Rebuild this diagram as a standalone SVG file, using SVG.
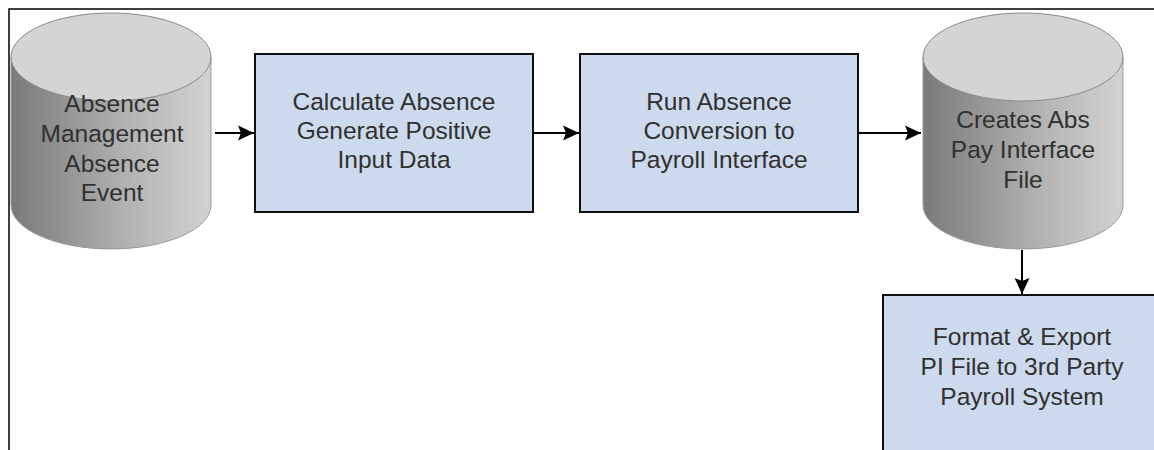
<svg xmlns="http://www.w3.org/2000/svg" width="1154" height="450" viewBox="0 0 1154 450">
<defs>
<linearGradient id="cylBody" x1="0" y1="0" x2="1" y2="0">
<stop offset="0" stop-color="#7a7a7a"/>
<stop offset="0.6" stop-color="#b4b4b4"/>
<stop offset="1" stop-color="#d2d2d2"/>
</linearGradient>
<marker id="arrow" viewBox="0 0 16 16" refX="16" refY="8" markerWidth="16" markerHeight="16" markerUnits="userSpaceOnUse" orient="auto">
<path d="M0,0.5 L16,8 L0,15.5 L3,8 Z" fill="#000"/>
</marker>
</defs>
<style>
.frame{stroke:#000;stroke-width:1.5;fill:none}
.box{fill:#cdd9ec;stroke:#111;stroke-width:2}
.cbody{fill:url(#cylBody);stroke:#9a9a9a;stroke-width:1}
.ctop{fill:#d4d4d4;stroke:#8a8a8a;stroke-width:1}
.lbl{font-family:"Liberation Sans",Arial,sans-serif;font-size:24.5px;fill:#303030;text-anchor:middle}
.conn{stroke:#000;stroke-width:2;fill:none;marker-end:url(#arrow)}
</style>
<rect width="1154" height="450" fill="#fff"/>
<path class="frame" d="M9,450 L9,9 L1154,9"/>

<g id="node-absence-event">
<path class="cbody" d="M11,57 L11,205 A100,44 0 0 0 211,205 L211,57 Z"/>
<ellipse class="ctop" cx="111" cy="57" rx="100" ry="44"/>
<text class="lbl" x="112" y="112">Absence</text>
<text class="lbl" x="112" y="142">Management</text>
<text class="lbl" x="112" y="172">Absence</text>
<text class="lbl" x="112" y="201">Event</text>
</g>

<g id="node-calculate">
<rect class="box" x="255" y="54" width="278" height="158"/>
<text class="lbl" x="394" y="110">Calculate Absence</text>
<text class="lbl" x="394" y="139">Generate Positive</text>
<text class="lbl" x="394" y="168">Input Data</text>
</g>

<g id="node-run-conversion">
<rect class="box" x="580" y="54" width="278" height="158"/>
<text class="lbl" x="719" y="110">Run Absence</text>
<text class="lbl" x="719" y="139">Conversion to</text>
<text class="lbl" x="719" y="168">Payroll Interface</text>
</g>

<g id="node-interface-file">
<path class="cbody" d="M923,57 L923,205 A100,44 0 0 0 1123,205 L1123,57 Z"/>
<ellipse class="ctop" cx="1023" cy="57" rx="100" ry="44"/>
<text class="lbl" x="1023" y="128">Creates Abs</text>
<text class="lbl" x="1023" y="158">Pay Interface</text>
<text class="lbl" x="1023" y="188">File</text>
</g>

<g id="node-format-export">
<rect class="box" x="883" y="295" width="290" height="170"/>
<text class="lbl" x="1022" y="345">Format &amp; Export</text>
<text class="lbl" x="1022" y="375">PI File to 3rd Party</text>
<text class="lbl" x="1022" y="405">Payroll System</text>
</g>

<g id="connectors">
<line class="conn" x1="215" y1="133" x2="254" y2="133"/>
<line class="conn" x1="533" y1="133" x2="579" y2="133"/>
<line class="conn" x1="858" y1="133" x2="921" y2="133"/>
<line class="conn" x1="1022" y1="250" x2="1022" y2="294"/>
</g>
</svg>
